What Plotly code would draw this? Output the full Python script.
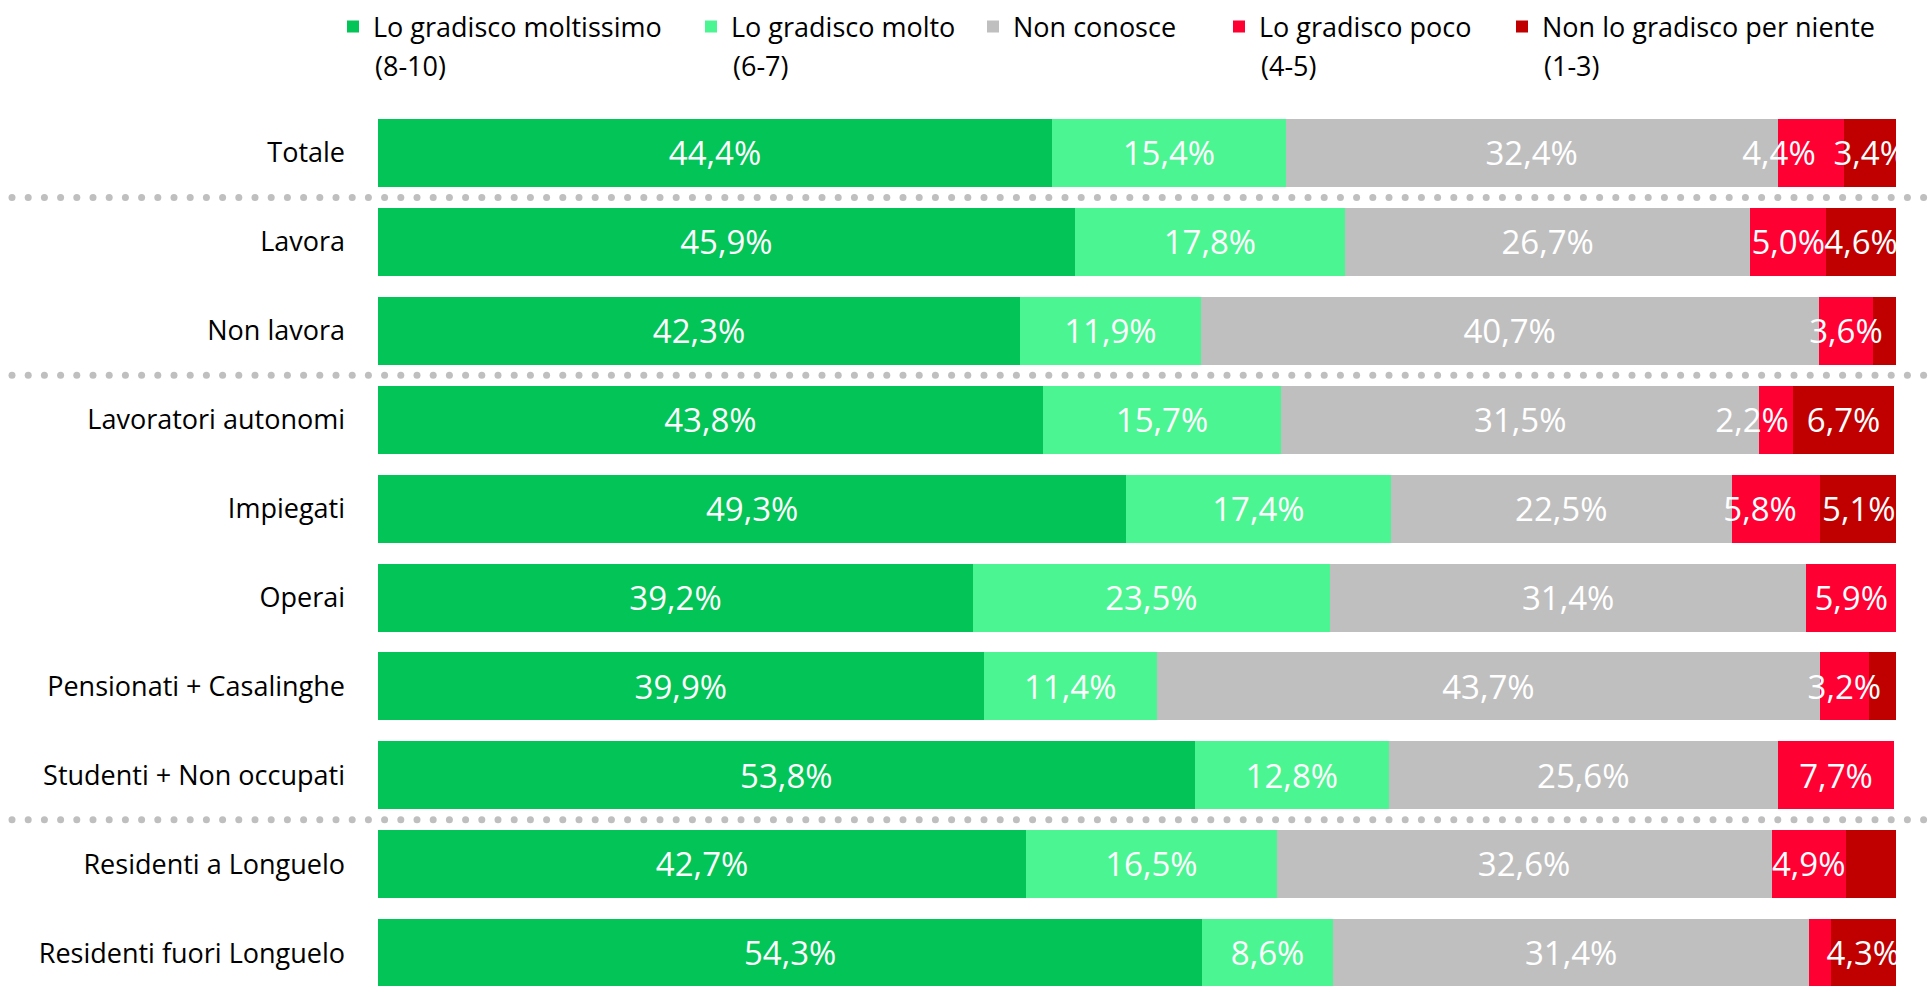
import numpy as np
import plotly.graph_objects as go

# ---- data -------------------------------------------------------------
categories = [
    "Totale",
    "Lavora",
    "Non lavora",
    "Lavoratori autonomi",
    "Impiegati",
    "Operai",
    "Pensionati + Casalinghe",
    "Studenti + Non occupati",
    "Residenti a Longuelo",
    "Residenti fuori Longuelo",
]

moltissimo = [44.4, 45.9, 42.3, 43.8, 49.3, 39.2, 39.9, 53.8, 42.7, 54.3]
molto = [15.4, 17.8, 11.9, 15.7, 17.4, 23.5, 11.4, 12.8, 16.5, 8.6]
non_conosce = [32.4, 26.7, 40.7, 31.5, 22.5, 31.4, 43.7, 25.6, 32.6, 31.4]
poco = [4.4, 5.0, 3.6, 2.2, 5.8, 5.9, 3.2, 7.7, 4.9, 1.4]
per_niente = [3.4, 4.6, 1.5, 6.7, 5.1, 0.0, 1.8, 0.0, 3.3, 4.3]

series_names = [
    "Lo gradisco moltissimo",
    "Lo gradisco molto",
    "Non conosce",
    "Lo gradisco poco",
    "Non lo gradisco per niente",
]
series_ranges = ["(8-10)", "(6-7)", "", "(4-5)", "(1-3)"]
series_values = [moltissimo, molto, non_conosce, poco, per_niente]

# segments whose value is not printed
unlabelled = {3: {9}, 4: {2, 6, 8}}
# labels nudged to the left of their segment (series, row) -> px
label_shift = {(3, 0): -32, (3, 3): -24, (3, 4): -16}
# rows followed by a dotted group separator
separator_after = [0, 2, 7]

# ---- style ------------------------------------------------------------
colors = ["#03C457", "#4BF592", "#BFBFBF", "#FF0033", "#C00000"]
FONT = "'Open Sans', sans-serif"
W, H = 1930, 986
PLOT_L, PLOT_R, PLOT_T, PLOT_B = 378, 1896, 108, 986
ROW_PX = 88.9
FIRST_ROW_PX = 153
LABEL_DROP_PX = 4
legend_text_px = [373, 731, 1013, 1259, 1542]
X_MAX = 100.0
PX_PER_UNIT = (PLOT_R - PLOT_L) / X_MAX


def paper_x(px):
    return px / W


def paper_y(py):
    return (PLOT_B - py) / (PLOT_B - PLOT_T)


def fmt(v):
    return f"{v:.1f}".replace(".", ",") + "%"


rows = list(range(len(categories)))
fig = go.Figure()
annotations = []

# stacked segments
for s, (name, vals) in enumerate(zip(series_names, series_values)):
    fig.add_trace(
        go.Bar(
            x=vals,
            y=rows,
            orientation="h",
            name=name,
            marker=dict(color=colors[s], line=dict(width=0)),
            hoverinfo="skip",
            legend="legend" if s == 0 else f"legend{s + 1}",
        )
    )

# value labels, drawn above every segment and clipped to the plot area
lab_x, lab_y, lab_t = [], [], []
for s, vals in enumerate(series_values):
    for r, v in enumerate(vals):
        if v <= 0 or r in unlabelled.get(s, set()):
            continue
        start = sum(series_values[k][r] for k in range(s))
        lab_x.append(start + v / 2 + label_shift.get((s, r), 0) / PX_PER_UNIT)
        lab_y.append(r + LABEL_DROP_PX / ROW_PX)
        lab_t.append(fmt(v))

fig.add_trace(
    go.Scatter(
        x=lab_x,
        y=lab_y,
        text=lab_t,
        mode="text",
        textposition="middle center",
        textfont=dict(family=FONT, size=33, color="white"),
        showlegend=False,
        hoverinfo="skip",
        cliponaxis=True,
    )
)

# dotted separators spanning the full width
dot_x = np.arange(12, 1925, 16.2)
for r in separator_after:
    fig.add_trace(
        go.Scatter(
            x=dot_x,
            y=[r + 0.5] * len(dot_x),
            xaxis="x2",
            yaxis="y",
            mode="markers",
            marker=dict(size=7, color="#BFBFBF", line=dict(width=0)),
            showlegend=False,
            hoverinfo="skip",
            cliponaxis=False,
        )
    )

# second lines of the legend entries
for s, rng in enumerate(series_ranges):
    if rng:
        annotations.append(
            dict(
                x=paper_x(legend_text_px[s]),
                y=paper_y(66),
                xref="paper",
                yref="paper",
                xanchor="left",
                yanchor="middle",
                text=rng,
                showarrow=False,
                font=dict(family=FONT, size=27, color="black"),
            )
        )

legends = {}
for s in range(len(series_names)):
    key = "legend" if s == 0 else f"legend{s + 1}"
    legends[key] = dict(
        x=paper_x(legend_text_px[s] - 40),
        y=paper_y(27),
        xanchor="left",
        yanchor="middle",
        orientation="h",
        bgcolor="rgba(0,0,0,0)",
        borderwidth=0,
        font=dict(family=FONT, size=27, color="black"),
    )

top_val = -(FIRST_ROW_PX - PLOT_T) / ROW_PX
bottom_val = (PLOT_B - FIRST_ROW_PX) / ROW_PX

fig.update_layout(
    width=W,
    height=H,
    margin=dict(l=0, r=0, t=PLOT_T, b=H - PLOT_B, pad=0),
    barmode="stack",
    bargap=0.235,
    paper_bgcolor="white",
    plot_bgcolor="rgba(0,0,0,0)",
    showlegend=True,
    xaxis=dict(
        range=[0, X_MAX],
        domain=[PLOT_L / W, PLOT_R / W],
        visible=False,
        fixedrange=True,
    ),
    xaxis2=dict(range=[0, W], domain=[0, 1], visible=False, anchor="y", fixedrange=True),
    yaxis=dict(
        range=[bottom_val, top_val],
        tickmode="array",
        tickvals=rows,
        ticktext=categories,
        showgrid=False,
        zeroline=False,
        showline=False,
        ticks="",
        ticklabelstandoff=32,
        tickfont=dict(family=FONT, size=27, color="black"),
        fixedrange=True,
    ),
    annotations=annotations,
    **legends,
)

fig.write_html("out.html")
